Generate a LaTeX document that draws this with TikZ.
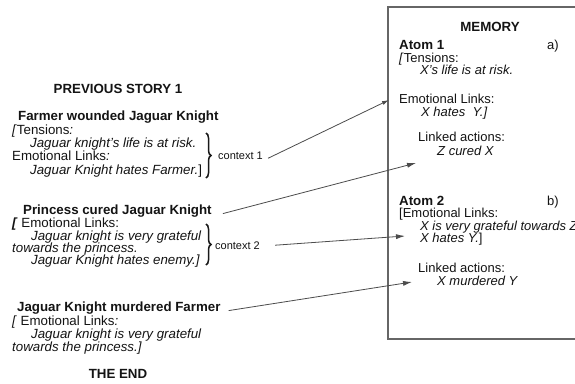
\documentclass[tikz,border=0pt]{standalone}
\usepackage{fontspec}
\setmainfont{Liberation Sans}
\usetikzlibrary{arrows.meta,decorations.pathreplacing}
\tikzset{
  txt/.style={anchor=base west, inner sep=0pt, text=black!92, font=\fontsize{13.3}{14}\selectfont},
  ttl/.style={txt, font=\fontsize{13.3}{14}\selectfont\bfseries},
  ctr/.style={ttl, anchor=base},
  mem/.style={txt, font=\fontsize{13}{14}\selectfont},
  memb/.style={txt, font=\fontsize{13.3}{14}\selectfont\bfseries},
  ctx/.style={txt, font=\fontsize{11}{12}\selectfont},
  arr/.style={draw=black!70, line width=0.8pt, -{Latex[length=9pt,width=5pt]}},
  arrs/.style={arr, -{Latex[length=7pt,width=4pt]}},
  brc/.style={draw=black!90, decorate, decoration={brace, amplitude=5pt}, line width=1.5pt},
  membox/.style={draw=black!60, line width=1.3pt},
}
\begin{document}
\begin{tikzpicture}[x=1pt,y=-1pt]
\useasboundingbox (0,0) rectangle (575,383);
\clip (0,0) rectangle (575,383);
\fill[white] (0,0) rectangle (575,383);

% left story
\node[ctr] (prev) at (118,93) {PREVIOUS STORY 1};
\node[ttl] (p1) at (18,120) {Farmer wounded Jaguar Knight};
\node[txt] (p1a) at (12,134) {\textit{[}Tensions\textit{:}};
\node[txt] (p1b) at (30,147) {\textit{Jaguar knight’s life is at risk.}};
\node[txt] (p1c) at (12,160.5) {Emotional Links\textit{:}};
\node[txt] (p1d) at (30,174) {\textit{Jaguar Knight hates Farmer.}]};
\draw[brc] (206,133) -- (206,178);
\node[ctx] (c1) at (218,159) {context 1};

\node[ttl] (p2) at (23,214) {Princess cured Jaguar Knight};
\node[txt] (p2a) at (12,227.5) {\textbf{\textit{[}} Emotional Links:};
\node[txt] (p2b) at (31,240) {\textit{Jaguar knight is very grateful}};
\node[txt] (p2c) at (12,252) {\textit{towards the princess.}};
\node[txt] (p2d) at (31,264) {\textit{Jaguar Knight hates enemy.]}};
\draw[brc] (206,224) -- (206,265);
\node[ctx] (c2) at (215,249) {context 2};

\node[ttl] (p3) at (17,311) {Jaguar Knight murdered Farmer};
\node[txt] (p3a) at (12,325) {\textit{[} Emotional Links\textit{:}};
\node[txt] (p3b) at (31,338.5) {\textit{Jaguar knight is very grateful}};
\node[txt] (p3c) at (12,351.5) {\textit{towards the princess.]}};
\node[ctr] (end) at (118,378) {THE END};

% memory
\draw[membox] (388,7) rectangle (610,339);
\node[ctr] (memt) at (490,31) {MEMORY};
\node[memb] (a1) at (399,49.5) {Atom 1};
\node[mem] (a1l) at (547,49.5) {a)};
\node[mem] (a1a) at (399,62) {\textit{[}Tensions:};
\node[mem] (a1b) at (420,74) {\textit{X’s life is at risk.}};
\node[mem] (a1c) at (399,103.5) {Emotional Links:};
\node[mem] (a1d) at (421,116) {\textit{X hates\ \ Y.]}};
\node[mem] (a1e) at (418,141.5) {Linked actions:};
\node[mem] (a1f) at (437,155) {\textit{Z cured X}};

\node[memb] (a2) at (399,205.5) {Atom 2};
\node[mem] (a2l) at (547,205.5) {b)};
\node[mem] (a2a) at (399,217.5) {[Emotional Links:};
\node[mem] (a2b) at (420,230.5) {\textit{X is very grateful towards Z}};
\node[mem] (a2c) at (420,242.5) {\textit{X hates Y.}]};
\node[mem] (a2d) at (418,272.5) {Linked actions:};
\node[mem] (a2e) at (437,285.5) {\textit{X murdered Y}};

% arrow targets
\coordinate (m1) at (389,100);
\coordinate (m2) at (416,163);
\coordinate (m3) at (405,236);
\coordinate (m4) at (412,282);

\draw[arrs] ([xshift=5pt,yshift=-3pt]c1.east) -- (m1);
\draw[arr] ([xshift=11pt,yshift=-3pt]p2.east) -- (m2);
\draw[arr] ([xshift=15pt]c2.east) -- (m3);
\draw[arr] ([xshift=8pt,yshift=-3pt]p3.east) -- (m4);
\end{tikzpicture}
\end{document}
